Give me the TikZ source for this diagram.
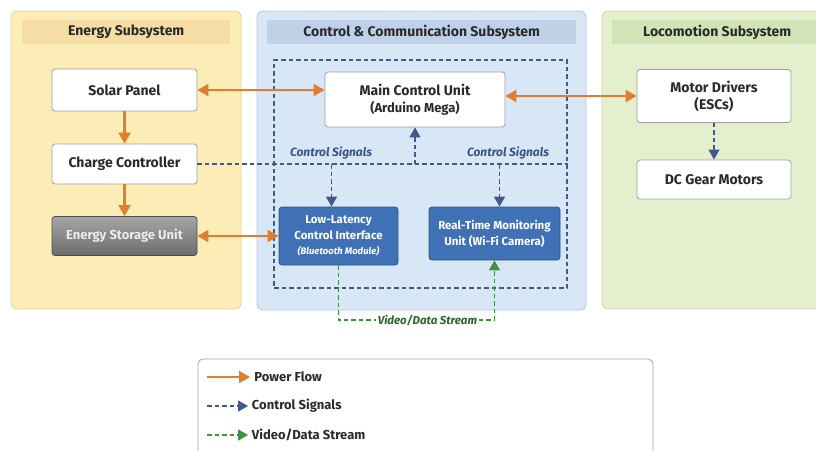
\documentclass[tikz,border=0pt]{standalone}
\usepackage{fontspec}
\setmainfont{Fira Sans}
\usetikzlibrary{arrows.meta,calc,positioning}
\definecolor{EnergyFill}{RGB}{252,237,183}
\definecolor{EnergyHead}{RGB}{246,221,163}
\definecolor{EnergyLine}{RGB}{232,210,150}
\definecolor{CtrlFill}{RGB}{215,231,245}
\definecolor{CtrlHead}{RGB}{190,209,232}
\definecolor{CtrlLine}{RGB}{180,200,225}
\definecolor{LocoFill}{RGB}{228,240,205}
\definecolor{LocoHead}{RGB}{210,228,183}
\definecolor{LocoLine}{RGB}{200,218,175}
\definecolor{PowerOrange}{RGB}{224,126,46}
\definecolor{SignalBlue}{RGB}{45,78,140}
\definecolor{DataGreen}{RGB}{62,146,62}
\definecolor{ModuleBlue}{RGB}{64,112,182}
\definecolor{TextDark}{RGB}{42,42,42}
\tikzset{
  panel/.style={rounded corners=6pt, line width=.8pt},
  headband/.style={anchor=north west, minimum height=24pt, inner sep=0pt,
    font=\fontsize{14}{16}\selectfont\bfseries, text=TextDark},
  unitbox/.style={draw=gray!75, fill=white, rounded corners=3pt, line width=.8pt,
    minimum width=145pt, align=center, text=TextDark,
    font=\fontsize{14}{17}\selectfont\bfseries},
  modbox/.style={draw=ModuleBlue!75!black, fill=ModuleBlue, rounded corners=3pt,
    line width=.8pt, align=center, text=white, font=\fontsize{11.5}{15.5}\selectfont\bfseries},
  power/.style={PowerOrange, line width=2.2pt, -{Triangle[length=11pt,width=12pt]}},
  powerboth/.style={PowerOrange, line width=2.2pt, {Triangle[length=11pt,width=12pt]}-{Triangle[length=11pt,width=12pt]}},
  sigline/.style={SignalBlue!75!gray, line width=1.3pt, dash pattern=on 4.5pt off 3pt},
  signal/.style={sigline, -{Triangle[length=10pt,width=11pt]}},
  data/.style={DataGreen, line width=1.3pt, dash pattern=on 4.5pt off 3pt, -{Triangle[length=10pt,width=11pt]}},
  siglabel/.style={font=\fontsize{12}{14}\selectfont\bfseries\itshape, text=SignalBlue!85!gray},
  legtext/.style={right, font=\fontsize{13}{15}\selectfont\bfseries, text=TextDark}
}
\begin{document}
\begin{tikzpicture}[x=1pt,y=-1pt]
  \clip (0,0) rectangle (816,450);
  \fill[white] (0,0) rectangle (816,450);
  % subsystem panels
  \draw[panel, fill=EnergyFill, draw=EnergyLine] (11,11) rectangle (241,309);
  \draw[panel, fill=CtrlFill, draw=CtrlLine] (257,11) rectangle (586,310);
  \draw[panel, fill=LocoFill, draw=LocoLine] (602,11) rectangle (830,309);
  \node[headband, fill=EnergyHead, minimum width=208pt] (ehead) at (22,20) {Energy Subsystem};
  \node[headband, fill=CtrlHead, minimum width=309pt] (chead) at (267,20) {Control \& Communication Subsystem};
  \node[headband, fill=LocoHead, minimum width=210pt] (lhead) at (612,20) {Locomotion Subsystem};
  % inner dashed frame
  \node[sigline, draw, minimum width=293pt, minimum height=228pt, inner sep=0pt] (inner) at (420.5,174) {};
  % energy units
  \node[unitbox, minimum height=42pt] (solar) at (124.5,90) {Solar Panel};
  \node[unitbox, minimum height=40pt] (charge) at (124.5,164) {Charge Controller};
  \node[unitbox, minimum height=39pt, draw=gray!60!black, top color=gray!70, bottom color=gray!85!black,
    text=gray!15, font=\fontsize{13}{15}\selectfont\bfseries] (storage) at (124.5,236) {Energy Storage Unit};
  % control units
  \node[unitbox, minimum width=180pt, minimum height=55pt] (mcu) at (415,99.5)
    {Main Control Unit\\{\fontsize{13}{17}\selectfont(Arduino Mega)}};
  \node[modbox, minimum width=119pt, minimum height=58pt] (llci) at (338.5,236)
    {Low-Latency\\Control Interface\\{\fontsize{9.5}{15}\selectfont\itshape(Bluetooth Module)}};
  \node[modbox, minimum width=131pt, minimum height=53pt] (rtmu) at (494.5,233.5)
    {Real-Time Monitoring\\Unit (Wi-Fi Camera)};
  % locomotion units
  \node[unitbox, minimum width=154pt, minimum height=53pt] (esc) at (714,96) {Motor Drivers\\(ESCs)};
  \node[unitbox, minimum width=154pt, minimum height=39pt] (motor) at (714,179.5) {DC Gear Motors};
  % power flow
  \draw[power] (solar) -- (charge);
  \draw[power] (charge) -- (storage);
  \draw[powerboth] (solar.east) -- (mcu.west |- solar.east);
  \draw[powerboth] (mcu.east |- esc.west) -- (esc.west);
  \draw[powerboth] (storage.east) -- (llci.west |- storage.east);
  % control signals
  \coordinate (bus) at (inner.east |- charge.east);
  \draw[sigline] (charge.east) -- (bus);
  \draw[signal] (mcu.south |- bus) -- (mcu.south);
  \draw[signal] ($(llci.north |- bus)+(-7,0)$) -- ($(llci.north)+(-7,0)$);
  \draw[signal] ($(rtmu.north |- bus)+(5,0)$) -- ($(rtmu.north)+(5,0)$);
  \node[siglabel, anchor=south] at (331,163) {Control Signals};
  \node[siglabel, anchor=south] at (508,163) {Control Signals};
  \draw[signal] (esc) -- (motor);
  % video / data stream
  \coordinate (dsl) at (llci.south |- 0,320);
  \coordinate (dsr) at (rtmu.south |- 0,320);
  \draw[data] (llci.south) -- (dsl) -- node[pos=.57, fill=white, inner sep=2pt, text=DataGreen!70!black,
    font=\fontsize{11.5}{13}\selectfont\bfseries\itshape] {Video/Data Stream} (dsr) -- (rtmu.south);
  % legend
  \draw[rounded corners=5pt, draw=gray!70, line width=.8pt, fill=white] (198,359) rectangle (653,470);
  \coordinate (lgpow) at (207,377);
  \coordinate (lgsig) at (207,406);
  \coordinate (lgdat) at (207,435);
  \draw[power] (lgpow) -- ++(43,0) node[legtext] {Power Flow};
  \draw[signal] (lgsig) -- ++(41,0) node[legtext] {Control Signals};
  \draw[data] (lgdat) -- ++(41,0) node[legtext] {Video/Data Stream};
\end{tikzpicture}
\end{document}
